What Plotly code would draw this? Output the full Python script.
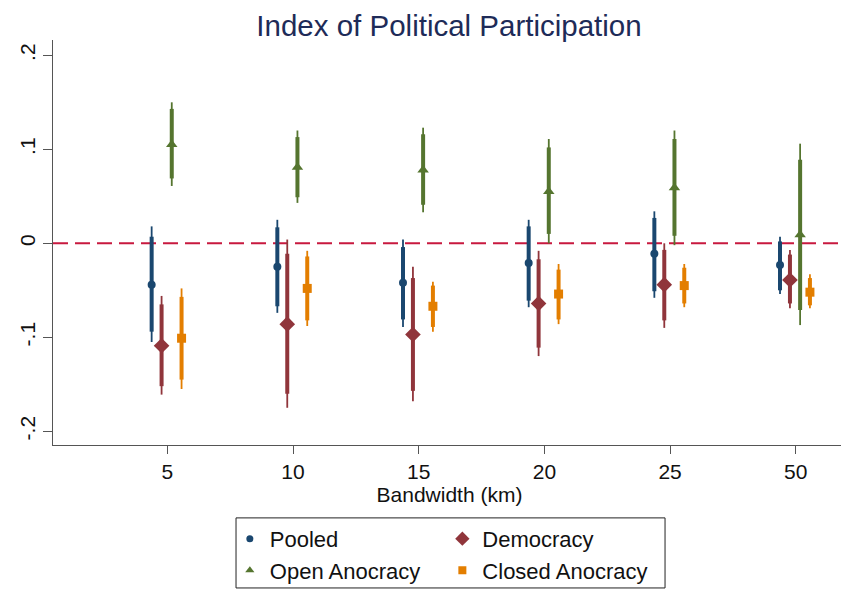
import plotly.graph_objects as go

bandwidths = ["5", "10", "15", "20", "25", "50"]
series_names = ["Pooled", "Democracy", "Open Anocracy", "Closed Anocracy"]

pooled_est = [-0.044, -0.025, -0.042, -0.021, -0.011, -0.023]
pooled_hi95 = [0.018, 0.025, 0.004, 0.025, 0.034, 0.007]
pooled_lo95 = [-0.105, -0.074, -0.089, -0.068, -0.058, -0.054]
pooled_hi90 = [0.007, 0.017, -0.004, 0.018, 0.027, 0.002]
pooled_lo90 = [-0.094, -0.067, -0.081, -0.061, -0.051, -0.050]

dem_est = [-0.109, -0.086, -0.097, -0.064, -0.044, -0.039]
dem_hi95 = [-0.056, 0.004, -0.025, -0.008, 0.000, -0.007]
dem_lo95 = [-0.161, -0.175, -0.168, -0.120, -0.090, -0.069]
dem_hi90 = [-0.065, -0.011, -0.037, -0.017, -0.007, -0.012]
dem_lo90 = [-0.152, -0.160, -0.157, -0.111, -0.082, -0.064]

open_est = [0.105, 0.081, 0.078, 0.055, 0.059, 0.009]
open_hi95 = [0.150, 0.120, 0.123, 0.111, 0.120, 0.106]
open_lo95 = [0.061, 0.043, 0.033, 0.000, -0.002, -0.087]
open_hi90 = [0.143, 0.113, 0.116, 0.102, 0.111, 0.089]
open_lo90 = [0.069, 0.049, 0.041, 0.010, 0.008, -0.071]

closed_est = [-0.101, -0.048, -0.067, -0.054, -0.045, -0.052]
closed_hi95 = [-0.048, -0.008, -0.041, -0.022, -0.022, -0.033]
closed_lo95 = [-0.155, -0.088, -0.094, -0.086, -0.068, -0.069]
closed_hi90 = [-0.057, -0.014, -0.045, -0.028, -0.026, -0.037]
closed_lo90 = [-0.145, -0.082, -0.089, -0.081, -0.064, -0.066]

y_tickvals = [-0.2, -0.1, 0, 0.1, 0.2]
y_ticktext = ["-.2", "-.1", "0", ".1", ".2"]
y_gridvals = [-0.2, -0.1, 0.1, 0.2]
reference_value = 0

x_range = [0.09, 6.4]
y_range = [-0.2146, 0.2163]

colors = ["#1a476f", "#90353b", "#55752f", "#e37e00"]
symbols = ["circle", "diamond", "triangle-up", "square"]
sizes = [8, 12, 10, 9]
legend_sizes = [7, 11, 8, 8]
offsets = [-0.125, -0.046, 0.035, 0.113]
legends = ["legend", "legend2", "legend", "legend2"]

data = [
    (pooled_est, pooled_lo95, pooled_hi95, pooled_lo90, pooled_hi90),
    (dem_est, dem_lo95, dem_hi95, dem_lo90, dem_hi90),
    (open_est, open_lo95, open_hi95, open_lo90, open_hi90),
    (closed_est, closed_lo95, closed_hi95, closed_lo90, closed_hi90),
]

FONT = "Liberation Sans, Arial, sans-serif"
fig = go.Figure()

# dashed reference line at zero: above gridlines, below the estimates
fig.add_trace(go.Scatter(
    x=x_range, y=[reference_value, reference_value], mode="lines",
    showlegend=False, hoverinfo="skip",
    line=dict(color="#c8193f", width=2, dash="15px,7px"),
))

for i, (name, (est, lo95, hi95, lo90, hi90)) in enumerate(zip(series_names, data)):
    xs = [k + 1 + offsets[i] for k in range(len(bandwidths))]
    fig.add_trace(go.Scatter(
        x=xs, y=est, mode="markers", showlegend=False, hoverinfo="skip",
        marker=dict(size=1, opacity=0, color=colors[i]),
        error_y=dict(type="data", symmetric=False,
                     array=[h - e for h, e in zip(hi95, est)],
                     arrayminus=[e - l for e, l in zip(est, lo95)],
                     color=colors[i], thickness=1.8, width=0),
    ))
    fig.add_trace(go.Scatter(
        x=xs, y=est, mode="markers", name=name, showlegend=False,
        marker=dict(size=sizes[i], symbol=symbols[i], color=colors[i],
                    line=dict(width=0)),
        error_y=dict(type="data", symmetric=False,
                     array=[h - e for h, e in zip(hi90, est)],
                     arrayminus=[e - l for e, l in zip(est, lo90)],
                     color=colors[i], thickness=4, width=0),
    ))

# legend entries (small symbols, as in the reference legend)
for i, name in enumerate(series_names):
    fig.add_trace(go.Scatter(
        x=[None], y=[None], mode="markers", name=name, legend=legends[i],
        legendgroup=name,
        marker=dict(size=legend_sizes[i], symbol=symbols[i], color=colors[i],
                    line=dict(width=0)),
    ))

fig.add_shape(type="rect", xref="paper", yref="paper",
              x0=0.2308, x1=0.7718, y0=-0.353, y1=-0.180,
              line=dict(color="#222222", width=1))

legend_common = dict(
    orientation="v", yanchor="top", xanchor="left",
    font=dict(family=FONT, size=22, color="#111111"),
    bgcolor="rgba(0,0,0,0)", borderwidth=0, tracegroupgap=0,
    itemwidth=30,
)

fig.update_layout(
    width=841, height=582,
    margin=dict(l=45, r=3, t=32, b=145, autoexpand=False),
    paper_bgcolor="white", plot_bgcolor="white",
    font=dict(family=FONT, color="#111111"),
    title=dict(text="Index of Political Participation", x=0.5244, xanchor="center",
               y=0.969, yanchor="middle",
               font=dict(family=FONT, size=29.5, color="#1e2b58")),
    xaxis=dict(range=x_range, tickvals=[1, 2, 3, 4, 5, 6], ticktext=bandwidths,
               showgrid=False, zeroline=False, showline=True, linecolor="#555555",
               linewidth=1, ticks="outside", ticklen=8, tickcolor="#555555",
               automargin=False,
               tickfont=dict(size=21, family=FONT, color="#111111"),
               title=dict(text="Bandwidth (km)", font=dict(size=21, family=FONT, color="#111111"),
                          standoff=3)),
    yaxis=dict(range=y_range, tickvals=y_tickvals, ticktext=y_ticktext,
               showgrid=False, zeroline=False,
               showline=True, linecolor="#555555", linewidth=1, automargin=False,
               ticks="outside", ticklen=9, tickcolor="#555555", tickangle=-90,
               tickfont=dict(size=21, family=FONT, color="#111111")),
    yaxis2=dict(range=y_range, overlaying="y", side="left", tickvals=y_gridvals,
                showgrid=True, gridcolor="#e8eff0", gridwidth=1.5, zeroline=False,
                showticklabels=False, ticks="", showline=False, automargin=False),
    legend=dict(x=0.223, y=-0.180, **legend_common),
    legend2=dict(x=0.491, y=-0.180, **legend_common),
)

fig.write_html("out.html")
